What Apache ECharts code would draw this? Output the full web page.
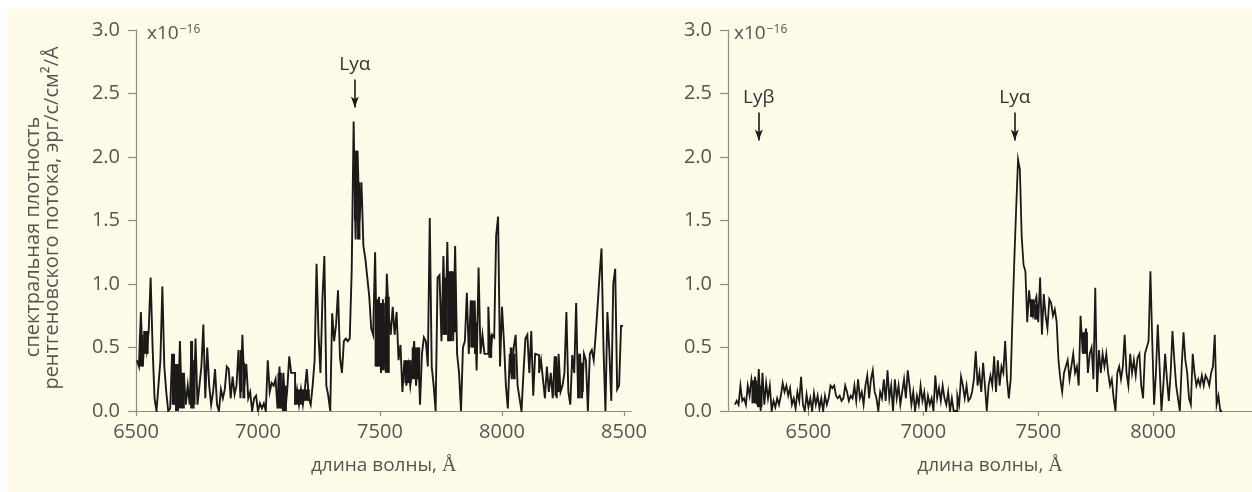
<!DOCTYPE html>
<html>
<head>
<meta charset="utf-8">
<script src="https://cdn.jsdelivr.net/npm/echarts@6/dist/echarts.min.js"></script>
<style>
  html, body { margin: 0; padding: 0; background: #ffffff; }
  #wrap { position: relative; width: 1252px; height: 492px; overflow: hidden; }
  #paper { position: absolute; left: 7px; top: 9px; right: 0; bottom: 0; background: #fffbe9; }
  #chart { position: absolute; left: 0; top: 0; width: 1252px; height: 492px; }
</style>
</head>
<body>
<div id="wrap"><div id="paper"></div><div id="chart"></div></div>
<script>
// Spectral flux density, units of 1e-16 erg/s/cm^2/Å, in 8 Å bins.
const BIN = 8;

// Left spectrum: bins starting at 6504 Å
const leftStart = 6504;
const leftFlux = [
  0.4, 0.35, 0.78, 0.35, 0.63, 0.48, 0.63, 1.05, 0.5, 0.1,     // 6504
  0, 0.2, 0.4, 0.98, 0.35, 0.15, 0, 0.02, 0.45, 0.05,          // 6584
  0.37, 0.02, 0.55, 0.05, 0.3, 0.05, 0.2, 0.05, 0.55, 0.02,    // 6664
  0.57, 0.05, 0.2, 0.35, 0.68, 0.1, 0.5, 0.2, 0.05, 0.15,      // 6744
  0.33, 0.05, 0, 0.17, 0.1, 0.17, 0.35, 0.33, 0.1, 0.27,       // 6824
  0.13, 0.2, 0.48, 0.1, 0.6, 0.2, 0.37, 0.1, 0.15, 0,          // 6904
  0.1, 0.12, 0, 0.06, 0.02, 0.06, 0, 0.4, 0.15, 0.22,          // 6984
  0.2, 0.25, 0.02, 0.35, 0.02, 0.3, 0, 0.17, 0.43, 0.3,        // 7064
  0.3, 0.05, 0.17, 0.05, 0.17, 0.05, 0.17, 0.33, 0.1, 0.05,    // 7144
  0.2, 0.4, 1.16, 0.6, 0.3, 0.88, 1.22, 0.2, 0.12, 0,          // 7224
  0.77, 0.55, 0.68, 0.95, 0.42, 0.3, 0.55, 0.57, 0.55, 0.57,   // 7304
  1.1, 2.28, 1.35, 2.05, 1.5, 1.8, 1.3, 1.2, 1.05, 0.9,        // 7384
  0.65, 0.6, 1.25, 0.35, 0.9, 0.3, 0.88, 0.35, 1.08, 0.75,     // 7464
  0.6, 0.82, 0.6, 0.78, 0.4, 0.52, 0.15, 0.4, 0.2, 0.35,       // 7544
  0.2, 0.35, 0.55, 0.2, 0.5, 0.05, 0.45, 0.58, 0.55, 0.35,     // 7624
  1.52, 0.35, 0.2, 0, 1.05, 1.07, 0.55, 1.22, 0.6, 1.33,       // 7704
  0.55, 1.1, 0.55, 1.3, 0.45, 0.3, 0, 0.5, 0.55, 0.93,         // 7784
  0.45, 0.87, 0.5, 0.87, 0.32, 1.13, 0.45, 0.6, 0.45, 0.45,    // 7864
  0.82, 0.42, 0.6, 0.58, 1.38, 1.53, 0.35, 0.82, 0.55, 0.2,    // 7944
  0.02, 0.45, 0.25, 0.5, 0.6, 0.2, 0.1, 0, 0.3, 0.57,          // 8024
  0.6, 0.3, 0.63, 0.12, 0.45, 0.44, 0.3, 0.4, 0.25, 0.1,       // 8104
  0.35, 0.15, 0.3, 0.1, 0.43, 0.1, 0.45, 0.15, 0.2, 0.3,       // 8184
  0.78, 0.15, 0.05, 0.44, 0.3, 0.85, 0.1, 0.45, 0.1, 0.45,     // 8264
  0.4, 0, 0.45, 0.48, 0.4, 0.6, 0.83, 1.07, 1.28, 0.5,         // 8344
  0, 0.78, 0.47, 0.08, 1.0, 1.12, 0.17, 0.2, 0.67              // 8424
];

// Stretches where the left spectrum swings faster than the plot resolves:
// [from Å, to Å, low flux, high flux]
const leftBands = [
  [6512, 6530, 0.35, 0.60], [6530, 6552, 0.45, 0.63],
  [6646, 6660, 0.05, 0.45], [6660, 6676, 0.00, 0.37], [6676, 6700, 0.02, 0.30],
  [6722, 6734, 0.02, 0.55], [6734, 6744, 0.05, 0.40],
  [6925, 6936, 0.15, 0.48], [6936, 6948, 0.10, 0.38],
  [7080, 7098, 0.02, 0.30], [7098, 7118, 0.00, 0.20],
  [7150, 7180, 0.05, 0.17], [7180, 7212, 0.08, 0.17],
  [7393, 7406, 1.50, 2.05], [7406, 7420, 1.35, 1.80],
  [7478, 7500, 0.35, 0.88], [7500, 7520, 0.32, 0.85], [7520, 7540, 0.30, 0.90],
  [7600, 7630, 0.22, 0.40], [7630, 7665, 0.25, 0.50],
  [7755, 7775, 0.60, 1.05], [7775, 7795, 0.55, 1.10], [7795, 7812, 0.62, 1.10],
  [7870, 7885, 0.50, 0.87], [7885, 7900, 0.45, 0.70],
  [7944, 7960, 0.42, 0.60],
  [8032, 8044, 0.30, 0.50], [8044, 8056, 0.25, 0.45],
  [8215, 8226, 0.12, 0.43], [8226, 8238, 0.15, 0.35],
  [8312, 8323, 0.10, 0.45], [8323, 8335, 0.15, 0.38]
];

// Right spectrum: bins starting at 6180 Å
const rightStart = 6180;
const rightFlux = [
  0.05, 0.08, 0.05, 0.2, 0.08, 0.1, 0.05, 0.2, 0.12, 0.25,     // 6180
  0.15, 0.27, 0.05, 0.33, 0, 0.3, 0.05, 0.22, 0.1, 0.2,        // 6260
  0, 0.08, 0.03, 0.1, 0.05, 0.12, 0.22, 0.15, 0.2, 0.12,       // 6340
  0.18, 0.05, 0.1, 0.02, 0.15, 0.08, 0.27, 0.05, 0, 0.13,      // 6420
  0.03, 0.1, 0, 0.14, 0.05, 0.12, 0.02, 0.1, 0, 0.12,          // 6500
  0.05, 0.1, 0.2, 0.18, 0.2, 0.12, 0.1, 0.12, 0.08, 0.1,       // 6580
  0.2, 0.15, 0.08, 0.12, 0.1, 0.2, 0.08, 0.25, 0.1, 0.15,      // 6660
  0.05, 0.2, 0.28, 0.1, 0.25, 0.32, 0.15, 0.1, 0, 0.15,        // 6740
  0.1, 0.25, 0.08, 0.32, 0.1, 0.2, 0, 0.25, 0.1, 0.2,          // 6820
  0.05, 0.15, 0.25, 0.1, 0.32, 0.2, 0.05, 0.15, 0, 0.12,       // 6900
  0.05, 0.2, 0.08, 0.15, 0, 0.12, 0.05, 0.1, 0, 0.28,          // 6980
  0.1, 0.18, 0.08, 0.2, 0.1, 0.05, 0.15, 0, 0.1, 0,            // 7060
  0, 0.12, 0.05, 0.27, 0.2, 0.1, 0.2, 0.08, 0.1, 0.15,         // 7140
  0.25, 0.47, 0.2, 0.3, 0.15, 0.38, 0.2, 0, 0.2, 0.28,         // 7220
  0.2, 0.43, 0.15, 0.4, 0.2, 0.35, 0.3, 0.55, 0.25, 0.1,       // 7300
  0.25, 0.75, 1.2, 1.6, 1.98, 1.9, 1.37, 1.15, 1.1, 0.7,       // 7380
  0.95, 0.8, 0.75, 0.85, 0.9, 0.7, 1.05, 0.6, 0.92, 0.75,      // 7460
  0.65, 0.88, 0.85, 0.75, 0.8, 0.7, 0.4, 0.25, 0.15, 0.3,      // 7540
  0.35, 0.4, 0.25, 0.35, 0.45, 0.3, 0.35, 0.2, 0.75, 0.5,      // 7620
  0.55, 0.65, 0.3, 0.45, 0.5, 0.25, 0.97, 0.15, 0.48, 0.3,     // 7700
  0.45, 0.35, 0.45, 0.3, 0.2, 0.25, 0.1, 0, 0.3, 0.35,         // 7780
  0.25, 0.35, 0.6, 0.3, 0.2, 0.45, 0.3, 0.4, 0.28, 0.42,       // 7860
  0.45, 0.2, 0.1, 0.45, 0.5, 0.55, 1.1, 0.55, 0.05, 0.3,       // 7940
  0.68, 0.35, 0, 0.2, 0.45, 0.25, 0.08, 0.3, 0.63, 0.4,        // 8020
  0.2, 0.1, 0, 0.35, 0.62, 0.4, 0.3, 0.1, 0.05, 0.45,          // 8100
  0.3, 0.2, 0.25, 0.2, 0.28, 0.2, 0.28, 0.25, 0.2, 0.3,        // 8180
  0.35, 0.6, 0.05, 0.12, 0                                     // 8260
];

// Dense stretches of the right spectrum: [from Å, to Å, low, high]
const rightBands = [
  [6252, 6276, 0.06, 0.24], [6276, 6300, 0.03, 0.20],
  [7464, 7482, 0.74, 0.88], [7482, 7500, 0.72, 0.84],
  [7690, 7716, 0.45, 0.62]
];

// Axis ticks
const leftXTicks = [6500, 7000, 7500, 8000, 8500];
const rightXTicks = [6500, 7000, 7500, 8000];

// Line markers: wavelength, arrow top and arrow tip
const leftLines = [{ name: 'Lyα', wl: 7397, top: 2.61, tip: 2.39 }];
const rightLines = [
  { name: 'Lyβ', wl: 6284, top: 2.35, tip: 2.13 },
  { name: 'Lyα', wl: 7398, top: 2.35, tip: 2.13 }
];

const FONT = '"Open Sans", "Noto Sans", sans-serif';
const TXT = '#555550';
const AXIS = '#8e8d86';
const INK = '#1b1a18';

function steps(start, vals) {
  const pts = vals.map((v, i) => [start + i * BIN, v]);
  pts.push([start + vals.length * BIN, vals[vals.length - 1]]);
  return pts;
}

function xAxis(idx, min, max, ticks) {
  return {
    type: 'value', gridIndex: idx, min: min, max: max,
    name: '{a|длина волны, }{b|Å}', nameLocation: 'middle', nameGap: 45,
    nameTextStyle: {
      rich: {
        a: { fontFamily: FONT, fontSize: 19, color: TXT },
        b: { fontFamily: '"Liberation Serif", serif', fontSize: 20, color: TXT }
      }
    },
    axisLine: { show: true, onZero: false, lineStyle: { color: AXIS, width: 1.2 } },
    axisTick: { show: true, length: 5, customValues: ticks, lineStyle: { color: AXIS, width: 1.2 } },
    axisLabel: {
      customValues: ticks, margin: 11, fontFamily: FONT, fontSize: 20, color: TXT,
      formatter: v => String(v)
    },
    splitLine: { show: false }
  };
}

function yAxis(idx) {
  return {
    type: 'value', gridIndex: idx, min: 0, max: 3, interval: 0.5,
    axisLine: { show: true, lineStyle: { color: AXIS, width: 1.2 } },
    axisTick: { show: true, length: 8, lineStyle: { color: AXIS, width: 1.2 } },
    axisLabel: {
      margin: 16, fontFamily: FONT, fontSize: 20, color: TXT,
      formatter: v => v.toFixed(1)
    },
    splitLine: { show: false }
  };
}

function markers(list) {
  return {
    silent: true,
    symbol: ['none', 'arrow'],
    symbolSize: [6, 11],
    lineStyle: { color: INK, width: 1.6, type: 'solid' },
    label: {
      show: true, position: 'start', distance: 5,
      fontFamily: FONT, fontSize: 19, color: '#333330',
      formatter: p => p.name
    },
    data: list.map(m => [
      { name: m.name, coord: [m.wl, m.top] },
      { coord: [m.wl, m.tip] }
    ])
  };
}

function spectrum(idx, data, lines, width) {
  return {
    type: 'line', xAxisIndex: idx, yAxisIndex: idx,
    step: 'end', showSymbol: false, silent: true,
    data: data,
    lineStyle: { color: INK, width: width, join: 'miter' },
    markLine: markers(lines)
  };
}

// Solid blocks for the unresolved swings, placed through the axes
function bands(idx, data) {
  return {
    type: 'custom', xAxisIndex: idx, yAxisIndex: idx, silent: true, clip: true,
    data: data,
    encode: { x: [0, 1], y: [2, 3] },
    renderItem: (params, api) => {
      const a = api.coord([api.value(0), api.value(3)]);
      const b = api.coord([api.value(1), api.value(2)]);
      return {
        type: 'rect',
        shape: { x: a[0], y: a[1], width: b[0] - a[0], height: b[1] - a[1] },
        style: { fill: INK }
      };
    }
  };
}

const chart = echarts.init(document.getElementById('chart'), null, { renderer: 'canvas' });

const powerLabel = (x) => ({
  type: 'text', left: x, top: 24,
  style: {
    text: '{a|x10}{b|−16}', fill: TXT,
    rich: {
      a: { fontFamily: FONT, fontSize: 19, fill: TXT },
      b: { fontFamily: FONT, fontSize: 12, fill: TXT, verticalAlign: 'top', padding: [0, 0, 8, 1] }
    }
  }
});

chart.setOption({
  animation: false,
  backgroundColor: 'transparent',
  grid: [
    { left: 136, top: 30, width: 495.3, height: 381 },
    { left: 728, top: 30, width: 542.6, height: 381 }
  ],
  xAxis: [
    xAxis(0, 6500, 8530, leftXTicks),
    xAxis(1, 6150, 8430, rightXTicks)
  ],
  yAxis: [yAxis(0), yAxis(1)],
  series: [
    bands(0, leftBands),
    spectrum(0, steps(leftStart, leftFlux), leftLines, 1.9),
    bands(1, rightBands),
    spectrum(1, steps(rightStart, rightFlux), rightLines, 1.8)
  ],
  graphic: [
    powerLabel(147),
    powerLabel(734),
    {
      type: 'text', x: 33, y: 237, rotation: Math.PI / 2,
      style: {
        text: 'спектральная плотность', fontFamily: FONT, fontSize: 20, fill: TXT,
        align: 'center', verticalAlign: 'middle'
      }
    },
    {
      type: 'text', x: 52, y: 218, rotation: Math.PI / 2,
      style: {
        text: 'рентгеновского потока, эрг/с/см²/Å', fontFamily: FONT, fontSize: 20, fill: TXT,
        align: 'center', verticalAlign: 'middle'
      }
    }
  ]
});
</script>
</body>
</html>
